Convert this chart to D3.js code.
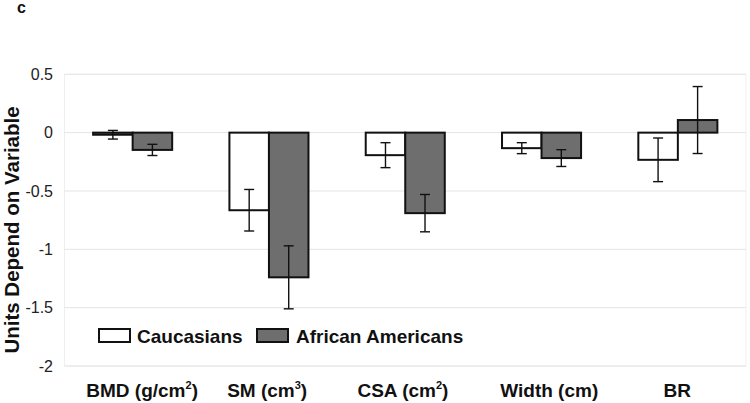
<!DOCTYPE html>
<html>
<head>
<meta charset="utf-8">
<script src="https://cdn.jsdelivr.net/npm/d3@7/dist/d3.min.js"></script>
<style>
  body { margin: 0; background: #fff; }
  svg { display: block; font-family: Arial, "Liberation Sans", sans-serif; }
</style>
</head>
<body>
<svg id="chart" width="750" height="403"></svg>
<script>
// ---- data ----
const categories = ["BMD", "SM", "CSA", "Width", "BR"];
const labelMain = ["BMD (g/cm", "SM (cm", "CSA (cm", "Width (cm)", "BR"];
const labelSup = ["2", "3", "2", "", ""];
const labelTail = [")", ")", ")", "", ""];
const seriesNames = ["Caucasians", "African Americans"];
const caucasians = [-0.018, -0.665, -0.193, -0.133, -0.233];
const caucasiansErr = [0.037, 0.178, 0.107, 0.047, 0.187];
const africanAmericans = [-0.148, -1.24, -0.69, -0.218, 0.108];
const africanAmericansErr = [0.048, 0.27, 0.16, 0.072, 0.287];
const yTicks = [0.5, 0, -0.5, -1, -1.5, -2];

(function () {
// ---- layout ----
const svg = d3.select("#chart");
const pLeft = 64.5, pRight = 746, pTop = 74.3, pBottom = 366;
const fills = ["#ffffff", "#6e6e6e"];

const y = d3.scaleLinear().domain([-2, 0.5]).range([pBottom, pTop]);
const x = d3.scaleBand().domain(categories).range([pLeft, pRight])
  .paddingInner(0.42).paddingOuter(0.21);
const xs = d3.scaleBand().domain([0, 1]).range([0, x.bandwidth()]);

// plot border (faint)
svg.append("rect").attr("x", pLeft).attr("y", pTop)
  .attr("width", pRight - pLeft).attr("height", pBottom - pTop)
  .attr("fill", "none").attr("stroke", "#efefef").attr("stroke-width", 1);

// gridlines
svg.append("g").selectAll("line").data(yTicks).join("line")
  .attr("x1", pLeft).attr("x2", pRight)
  .attr("y1", d => y(d)).attr("y2", d => y(d))
  .attr("stroke", "#e4e4e4").attr("stroke-width", 1);

// y axis labels
const yAxis = d3.axisLeft(y).tickValues(yTicks).tickSize(0).tickPadding(0)
  .tickFormat(d => String(d));
const yg = svg.append("g").attr("transform", `translate(53,0)`).call(yAxis);
yg.select(".domain").remove();
yg.selectAll("text").attr("font-size", 16).attr("fill", "#222")
  .attr("font-family", "Arial, 'Liberation Sans', sans-serif");

// bars
const series = [
  { vals: caucasians, errs: caucasiansErr },
  { vals: africanAmericans, errs: africanAmericansErr }
];
series.forEach((s, si) => {
  const g = svg.append("g");
  g.selectAll("rect").data(categories).join("rect")
    .attr("x", (c) => x(c) + xs(si))
    .attr("width", xs.bandwidth())
    .attr("y", (c, i) => Math.min(y(0), y(s.vals[i])))
    .attr("height", (c, i) => Math.abs(y(s.vals[i]) - y(0)))
    .attr("fill", fills[si]).attr("stroke", "#111").attr("stroke-width", 2);
});

// error bars
series.forEach((s, si) => {
  const g = svg.append("g").attr("stroke", "#111").attr("stroke-width", 1.4);
  categories.forEach((c, i) => {
    const cx = x(c) + xs(si) + xs.bandwidth() / 2;
    const hi = y(s.vals[i] + s.errs[i]), lo = y(s.vals[i] - s.errs[i]);
    g.append("line").attr("x1", cx).attr("x2", cx).attr("y1", hi).attr("y2", lo);
    g.append("line").attr("x1", cx - 5).attr("x2", cx + 5).attr("y1", hi).attr("y2", hi);
    g.append("line").attr("x1", cx - 5).attr("x2", cx + 5).attr("y1", lo).attr("y2", lo);
  });
});

// x labels
const nudge = [9.5, -1.8, -2.3, 7.7, -0.6];
const xl = svg.append("g");
categories.forEach((c, i) => {
  const t = xl.append("text")
    .attr("x", x(c) + x.bandwidth() / 2 + nudge[i]).attr("y", 397)
    .attr("text-anchor", "middle").attr("font-size", 19).attr("font-weight", "bold")
    .attr("fill", "#111");
  t.append("tspan").text(labelMain[i]);
  if (labelSup[i]) {
    t.append("tspan").attr("font-size", 11).attr("dy", -8).text(labelSup[i]);
    t.append("tspan").attr("dy", 8).text(labelTail[i]);
  }
});

// y title
svg.append("text")
  .attr("transform", "translate(19,230) rotate(-90)")
  .attr("text-anchor", "middle").attr("font-size", 20.5).attr("font-weight", "bold")
  .attr("fill", "#111").text("Units Depend on Variable");

// panel letter
svg.append("text").attr("x", 17).attr("y", 12.5)
  .attr("font-size", 16).attr("font-weight", "bold").attr("fill", "#111").text("c");

// legend
const legX = [99, 257];
const legTextX = [137, 296];
const lg = svg.append("g");
seriesNames.forEach((n, i) => {
  lg.append("rect").attr("x", legX[i]).attr("y", 329).attr("width", 31).attr("height", 13)
    .attr("fill", fills[i]).attr("stroke", "#111").attr("stroke-width", 2);
  lg.append("text").attr("x", legTextX[i]).attr("y", 342.5)
    .attr("font-size", 19).attr("font-weight", "bold").attr("fill", "#111").text(n);
});
})();
</script>
</body>
</html>
